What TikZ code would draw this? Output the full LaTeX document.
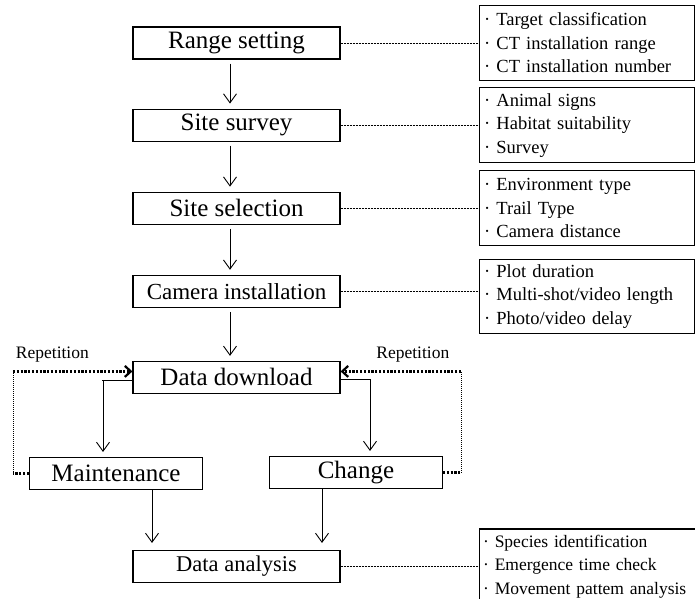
\documentclass[tikz,border=0pt]{standalone}
\usepackage{fontspec}
\setmainfont{Liberation Serif}
\usetikzlibrary{positioning,arrows.meta}

\begin{document}
\begin{tikzpicture}[x=1pt,y=1pt,
    stage/.style={draw, line width=1.1pt, minimum width=207pt, minimum height=32pt,
        inner sep=2pt, font=\fontsize{25}{30}\selectfont},
    branch/.style={stage, minimum width=173pt},
    note/.style={draw, line width=1.1pt, text width=205pt, inner sep=5pt,
        minimum height=75pt, align=left, font=\fontsize{18.5}{23.5}\selectfont},
    flow/.style={-{Straight Barb[length=9pt,width=13pt]}, line width=0.9pt,
        shorten <=4pt, shorten >=5pt},
    link/.style={line width=0.6pt, dash pattern=on 2pt off 1pt},
    loopline/.style={line width=2.2pt, dash pattern=on 2.2pt off 1.6pt},
    loopside/.style={line width=0.7pt, dash pattern=on 1pt off 1pt}]

\useasboundingbox (0,0) rectangle (695,-598);

% Range setting block
\node[stage] (block1) at (236.5,-43) {Range setting};

% Site survey
\node[stage, below=49pt of block1] (block2) {Site survey};

% Site selection
\node[stage, below=50pt of block2] (block3) {Site selection};

% Camera installation
\node[stage, below=50pt of block3,
    font=\fontsize{23}{28}\selectfont] (block4) {Camera installation};

% Data download
\node[stage, below=53pt of block4] (block5) {Data download};

% Maintenance and change
\node[branch, below=63pt of block5, xshift=-120.5pt] (block6) {Maintenance};
\node[branch, below=62pt of block5, xshift=119.5pt] (block7) {Change};

% Data analysis
\node[stage, below=156pt of block5,
    font=\fontsize{22.5}{27}\selectfont] (block8) {Data analysis};

% Notes on the right
\node[note, right=138pt of block1] (note1)
    {· Target classification\\ · CT installation range\\ · CT installation number};
\node[note, right=138pt of block2] (note2)
    {· Animal signs\\ · Habitat suitability\\ · Survey};
\node[note, right=138pt of block3] (note3)
    {· Environment type\\ · Trail Type\\ · Camera distance};
\node[note, right=138pt of block4, yshift=-5pt, minimum height=71pt] (note4)
    {· Plot duration\\ · Multi-shot/video length\\ · Photo/video delay};
\node[note, right=138pt of block8, text width=230pt, inner sep=4pt,
    font=\fontsize{17.5}{23.5}\selectfont] (note5)
    {· Species identification\\ · Emergence time check\\ · Movement pattem analysis};

% Dashed links to the notes
\draw[link] (block1.east) -- (block1.east -| note1.west);
\draw[link] (block2.east) -- (block2.east -| note2.west);
\draw[link] (block3.east) -- (block3.east -| note3.west);
\draw[link] (block4.east) -- (block4.east -| note4.west);
\draw[link] (block8.east) -- (note5.west);

% Arrows
\draw[flow] ([xshift=-6.5pt]block1.south) -- ([xshift=-6.5pt]block2.north);
\draw[flow] ([xshift=-6.5pt]block2.south) -- ([xshift=-6.5pt]block3.north);
\draw[flow] ([xshift=-6.5pt]block3.south) -- ([xshift=-6.5pt]block4.north);
\draw[flow] ([xshift=-6.5pt]block4.south) -- ([xshift=-6.5pt]block5.north);

\draw[flow, shorten <=0pt] ([yshift=-3pt]block5.west) -| ([xshift=-13pt]block6.north);
\draw[line width=1.8pt] ([yshift=-3pt]block5.west) -- ++(-30,0);
\draw[flow, shorten <=0pt] ([yshift=-2pt]block5.east) -| ([xshift=14pt]block7.north);
\draw[line width=1.8pt] ([yshift=-2pt]block5.east) -- ++(30,0);

\draw[flow, shorten <=0pt, shorten >=7pt]
    ([xshift=36pt]block6.south) -- ([xshift=36pt]block6.south |- block8.north);
\draw[flow, shorten <=0pt, shorten >=7pt]
    ([xshift=-34pt]block7.south) -- ([xshift=-34pt]block7.south |- block8.north);

% Repetition loops
\coordinate (loopL) at ([xshift=-16pt]block6.west);
\coordinate (backL) at ([yshift=6pt]block5.west);
\draw[loopline] (block6.west) -- (loopL);
\draw[loopside] (loopL) -- (loopL |- backL);
\draw[loopline, -{Straight Barb[length=6pt,width=11pt]}] (loopL |- backL) -- (backL)
    node[pos=0.33, above=6pt, inner sep=2pt, font=\fontsize{17.5}{20}\selectfont] {Repetition};

\coordinate (loopR) at ([xshift=18pt]block7.east);
\coordinate (backR) at ([yshift=6pt]block5.east);
\draw[loopline] (block7.east) -- (loopR);
\draw[loopside] (loopR) -- (loopR |- backR);
\draw[loopline, -{Straight Barb[length=6pt,width=11pt]}] (loopR |- backR) -- (backR)
    node[pos=0.4, above=6pt, inner sep=2pt, font=\fontsize{17.5}{20}\selectfont] {Repetition};

\end{tikzpicture}
\end{document}
